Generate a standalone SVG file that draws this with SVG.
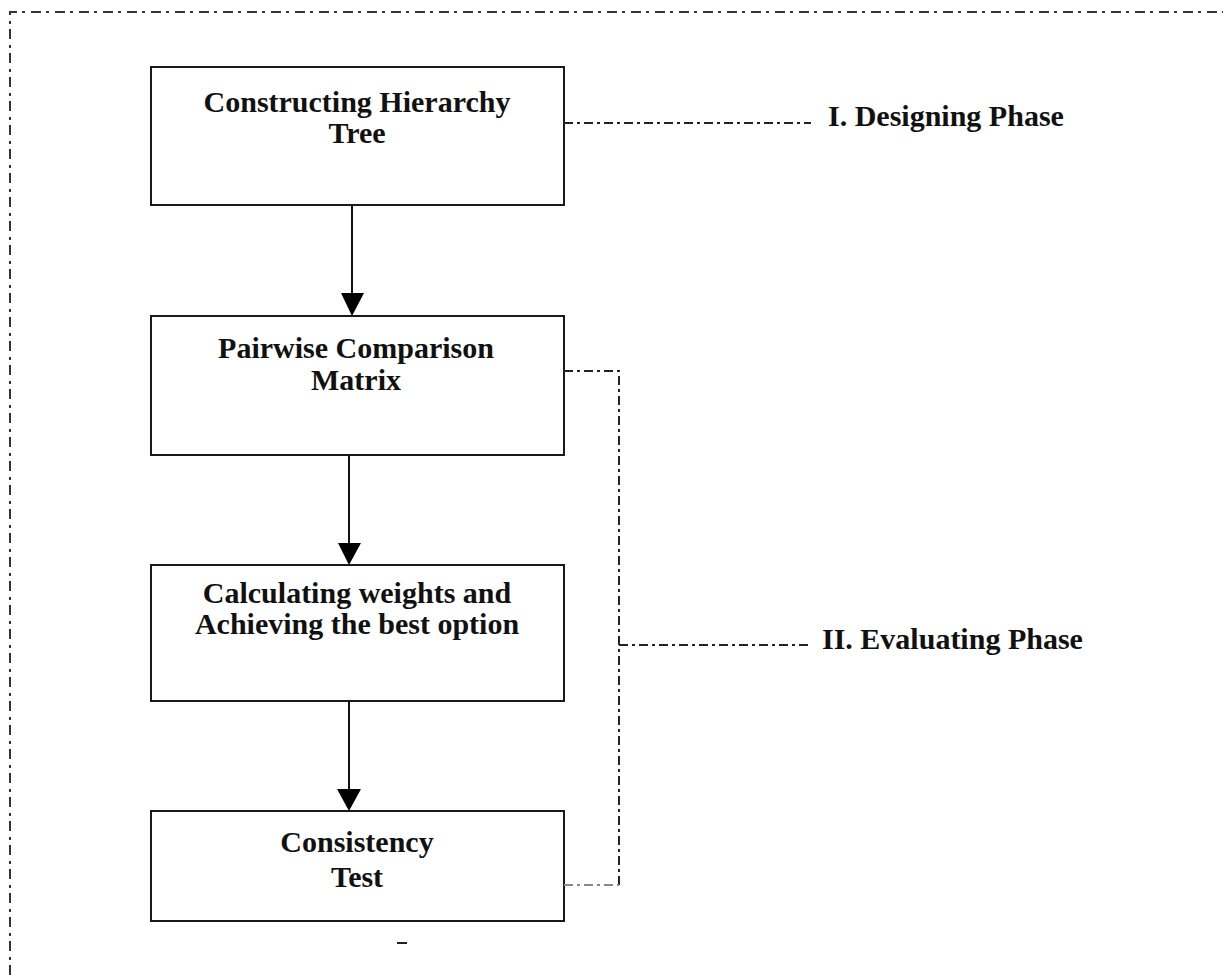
<svg xmlns="http://www.w3.org/2000/svg" width="1223" height="975" viewBox="0 0 1223 975">
<style>
.box{fill:#fff;stroke:#1a1a1a;stroke-width:2}
.t{font-family:"Liberation Serif","Times New Roman",serif;font-weight:bold;font-size:30px;fill:#111;text-anchor:middle}
.lbl{font-family:"Liberation Serif","Times New Roman",serif;font-weight:bold;font-size:30px;fill:#111}
.frame{fill:none;stroke:#333;stroke-width:2;stroke-dasharray:10 5 3 6}
.dd{fill:none;stroke:#222;stroke-width:2;stroke-dasharray:9 4 3 4}
.ddg{fill:none;stroke:#888;stroke-width:2;stroke-dasharray:9 4 3 4}
.arr{stroke:#111;stroke-width:2;fill:none}
.head{fill:#000}
</style>
<rect width="1223" height="975" fill="#fff"/>
<g id="frame">
<path class="frame" d="M10,975 V12 H1223"/>
</g>
<g id="n1">
<rect class="box" x="151" y="67" width="413" height="138"/>
<text class="t" x="357" y="112">Constructing Hierarchy</text>
<text class="t" x="357" y="143">Tree</text>
</g>
<g id="n2">
<rect class="box" x="151" y="316" width="413" height="139"/>
<text class="t" x="356" y="358">Pairwise Comparison</text>
<text class="t" x="356" y="390">Matrix</text>
</g>
<g id="n3">
<rect class="box" x="151" y="565" width="413" height="136"/>
<text class="t" x="357" y="603">Calculating weights and</text>
<text class="t" x="357" y="634">Achieving the best option</text>
</g>
<g id="n4">
<rect class="box" x="151" y="811" width="413" height="110"/>
<text class="t" x="357" y="852">Consistency</text>
<text class="t" x="357" y="887">Test</text>
</g>
<g id="phase1">
<text class="lbl" x="828" y="126">I. Designing Phase</text>
</g>
<g id="phase2">
<text class="lbl" x="822" y="649">II. Evaluating Phase</text>
</g>
<g id="connectors">
<line class="arr" x1="352" y1="205" x2="352" y2="295"/>
<polygon class="head" points="341,293 364,293 352,316"/>
<line class="arr" x1="349" y1="455" x2="349" y2="545"/>
<polygon class="head" points="338,543 361,543 349,565"/>
<line class="arr" x1="349" y1="700" x2="349" y2="791"/>
<polygon class="head" points="337,789 361,789 349,811"/>
<path class="dd" d="M564,123 H811"/>
<path class="dd" d="M564,371 H619 V885"/>
<path class="dd" d="M619,645 H808"/>
<path class="ddg" d="M564,885 H619"/>
<line x1="397" y1="943" x2="407" y2="943" stroke="#222" stroke-width="2"/>
</g>
</svg>
